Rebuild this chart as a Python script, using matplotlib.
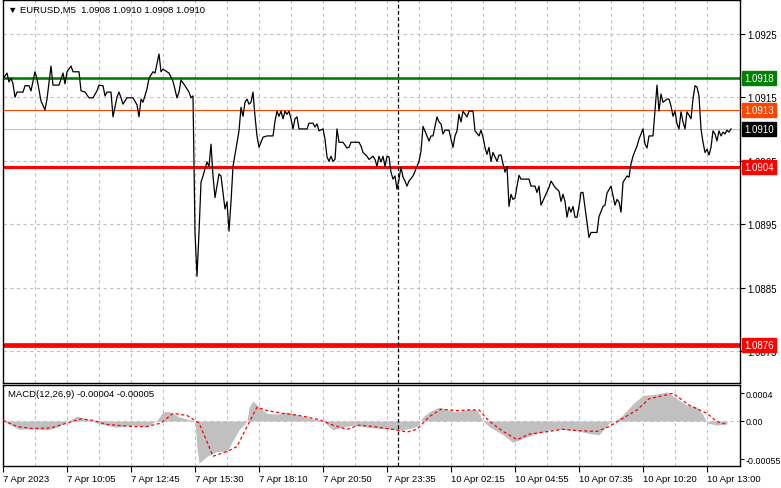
import matplotlib
matplotlib.use("Agg")
import matplotlib.pyplot as plt
from matplotlib.ticker import FixedLocator

# ---------------- data ----------------
price_bars = [0, 2, 3, 4, 5, 6, 7, 10, 11, 13, 14, 16, 17, 19, 21, 22, 24, 25, 28, 30,
              31, 32, 34, 35, 38, 39, 41, 43, 45, 47, 48, 50, 51, 52, 54, 55, 57, 58, 59, 60,
              62, 64, 65, 67, 68, 69, 70, 72, 73, 75, 76, 78, 79, 80, 82, 83, 85, 87, 88, 89,
              91, 93, 94, 95, 96, 97, 98, 99, 100, 102, 103, 104, 105, 106, 107, 108, 109, 110, 111, 112,
              113, 114, 115, 117, 118, 119, 120, 121, 122, 123, 124, 125, 126, 127, 128, 130, 132, 135, 136, 137,
              138, 139, 140, 141, 142, 143, 144, 145, 146, 147, 148, 152, 153, 155, 156, 157, 158, 160, 161, 162,
              163, 164, 165, 166, 167, 168, 170, 172, 173, 174, 178, 179, 180, 182, 183, 185, 186, 187, 188, 189,
              190, 191, 192, 193, 194, 195, 196, 197, 198, 199, 200, 201, 202, 203, 205, 206, 207, 208, 209, 210,
              212, 213, 214, 215, 217, 218, 219, 220, 221, 223, 224, 225, 226, 227, 228, 229, 230, 232, 233, 235,
              236, 238, 239, 240, 241, 242, 243, 244, 245, 246, 247, 248, 249, 250, 251, 252, 253, 254, 255, 256,
              257, 258, 259, 263, 264, 266, 267, 268, 269, 271, 273, 274, 276, 278, 279, 280, 281, 282, 283, 284,
              285, 286, 287, 288, 289, 290, 291, 292, 293, 294, 297, 298, 299, 300, 301, 302, 304, 306, 307, 308,
              309, 310, 311, 312, 313, 314, 315, 317, 318, 320, 321, 322, 323, 325, 326, 327, 328, 329, 330, 332,
              333, 334, 335, 336, 337, 338, 339, 340, 341, 342, 344, 345, 346, 347, 348, 349, 350, 351, 352, 353,
              354, 355, 356, 357, 358, 359, 360, 361, 362, 363, 364]
close = [1.09179, 1.09188, 1.09174, 1.09180, 1.09171, 1.09150, 1.09158, 1.09158, 1.09168, 1.09168,
         1.09160, 1.09190, 1.09179, 1.09144, 1.09130, 1.09147, 1.09199, 1.09169, 1.09169, 1.09188,
         1.09171, 1.09190, 1.09199, 1.09190, 1.09190, 1.09160, 1.09158, 1.09149, 1.09149, 1.09160,
         1.09169, 1.09168, 1.09152, 1.09158, 1.09158, 1.09119, 1.09150, 1.09158, 1.09149, 1.09139,
         1.09149, 1.09149, 1.09149, 1.09138, 1.09119, 1.09147, 1.09142, 1.09163, 1.09180, 1.09190,
         1.09188, 1.09218, 1.09190, 1.09194, 1.09190, 1.09188, 1.09175, 1.09149, 1.09158, 1.09177,
         1.09168, 1.09158, 1.09149, 1.09152, 1.08937, 1.08868, 1.08937, 1.09016, 1.09026, 1.09048,
         1.09041, 1.09076, 1.09026, 1.08992, 1.09010, 1.09029, 1.09026, 1.09000, 1.08974, 1.08985,
         1.08939, 1.08985, 1.09041, 1.09079, 1.09097, 1.09134, 1.09120, 1.09142, 1.09147, 1.09139,
         1.09142, 1.09158, 1.09120, 1.09089, 1.09071, 1.09087, 1.09089, 1.09089, 1.09112, 1.09128,
         1.09120, 1.09128, 1.09116, 1.09128, 1.09123, 1.09128, 1.09116, 1.09100, 1.09116, 1.09119,
         1.09100, 1.09100, 1.09109, 1.09109, 1.09103, 1.09108, 1.09097, 1.09100, 1.09084, 1.09056,
         1.09049, 1.09057, 1.09049, 1.09052, 1.09100, 1.09079, 1.09079, 1.09070, 1.09071, 1.09079,
         1.09079, 1.09073, 1.09063, 1.09057, 1.09052, 1.09057, 1.09052, 1.09041, 1.09057, 1.09048,
         1.09057, 1.09041, 1.09057, 1.09056, 1.09032, 1.09021, 1.09026, 1.09005, 1.09021, 1.09040,
         1.09024, 1.09018, 1.09010, 1.09018, 1.09026, 1.09033, 1.09041, 1.09049, 1.09065, 1.09104,
         1.09089, 1.09081, 1.09089, 1.09089, 1.09119, 1.09111, 1.09108, 1.09092, 1.09098, 1.09098,
         1.09084, 1.09071, 1.09089, 1.09097, 1.09123, 1.09111, 1.09128, 1.09119, 1.09128, 1.09128,
         1.09097, 1.09089, 1.09098, 1.09087, 1.09071, 1.09060, 1.09071, 1.09049, 1.09063, 1.09056,
         1.09049, 1.09059, 1.09059, 1.09045, 1.09032, 1.09041, 1.08978, 1.08997, 1.08989, 1.08991,
         1.09010, 1.09027, 1.09021, 1.09021, 1.09010, 1.09010, 1.09000, 1.09010, 1.08980, 1.08994,
         1.09008, 1.09018, 1.09008, 1.09002, 1.08986, 1.08997, 1.08986, 1.08961, 1.08977, 1.08969,
         1.08978, 1.08961, 1.08961, 1.08978, 1.09000, 1.09000, 1.08977, 1.08953, 1.08929, 1.08937,
         1.08937, 1.08962, 1.08970, 1.08978, 1.08980, 1.08999, 1.09010, 1.08980, 1.08989, 1.08985,
         1.08969, 1.09016, 1.09021, 1.09026, 1.09024, 1.09045, 1.09057, 1.09073, 1.09084, 1.09100,
         1.09076, 1.09070, 1.09089, 1.09089, 1.09128, 1.09169, 1.09128, 1.09155, 1.09142, 1.09147,
         1.09147, 1.09136, 1.09120, 1.09128, 1.09108, 1.09100, 1.09127, 1.09111, 1.09100, 1.09127,
         1.09116, 1.09147, 1.09168, 1.09166, 1.09152, 1.09100, 1.09079, 1.09063, 1.09068, 1.09059,
         1.09071, 1.09097, 1.09092, 1.09081, 1.09097, 1.09089, 1.09095, 1.09092, 1.09098, 1.09095,
         1.09100]

hist_bars = [0, 4, 8, 15, 22, 27, 32, 37, 42, 48, 57, 65, 72, 77, 80, 83, 88, 93, 96, 97,
             98, 102, 107, 112, 115, 118, 122, 123, 125, 128, 132, 137, 142, 148, 155, 160, 165, 168, 175, 182,
             190, 197, 200, 207, 210, 213, 218, 222, 227, 232, 237, 240, 243, 250, 255, 260, 267, 273, 280, 287,
             293, 298, 303, 307, 310, 315, 320, 327, 332, 337, 342, 347, 350, 352, 357, 362]
hist_vals = [0.0, -0.00006, -0.00012, -0.00011, -0.00013, -0.00009, -0.00001, 0.00007, 0.00003, -0.00004,
             -0.00009, -0.00006, -0.00008, 0.00001, 0.00013, 0.00014, 0.00006, 0.00002, 0.0, -0.0004,
             -0.00061, -0.00051, -0.00044, -0.00044, -0.00028, -0.00013, 0.0, 0.0002, 0.00029, 0.0002,
             0.00011, 0.0001, 0.00013, 0.00008, 0.00003, 0.0, -0.00013, -0.0001, -0.00006, -0.00009,
             -0.00011, -0.00013, -0.00013, -0.00008, 0.00006, 0.00013, 0.0002, 0.00016, 0.00013, 0.00017,
             0.00016, 0.0, -0.00008, -0.0002, -0.00031, -0.00025, -0.00018, -0.00013, -0.00012, -0.00014,
             -0.00018, -0.0002, -0.00003, 0.00002, 0.00009, 0.00025, 0.00037, 0.00039, 0.00042, 0.00032,
             0.00023, 0.0002, 0.00009, -0.00003, -0.00006, -0.00004]

signal_bars = [0, 7, 15, 24, 32, 39, 45, 52, 65, 72, 79, 85, 92, 98, 102, 105, 112, 117, 122, 127,
               132, 140, 148, 158, 165, 172, 178, 185, 197, 202, 207, 213, 219, 227, 233, 238, 243, 250, 257, 263,
               273, 280, 287, 297, 303, 310, 317, 323, 335, 343, 352, 357, 362]
signal_vals = [0.00001, -0.00008, -0.00011, -0.0001, -0.00003, 0.00003, 0.00001, -0.00005, -0.00008, -0.00008,
               -0.00003, 0.00011, 0.00008, -0.00003, -0.0003, -0.00051, -0.00044, -0.00037, -0.00008, 0.0002,
               0.00015, 0.00011, 0.00008, 0.00002, -0.00006, -0.00012, -0.00006, -0.00008, -0.00013, -0.00016,
               -0.00012, 0.00006, 0.00017, 0.00015, 0.00016, 0.00016, 0.0, -0.00015, -0.00027, -0.00019,
               -0.00015, -0.00012, -0.00014, -0.00015, -0.00008, 0.00004, 0.00016, 0.00032, 0.0004, 0.00023,
               0.00011, -0.00001, -0.00005]

price_ticks = [1.0875, 1.0885, 1.0895, 1.0905, 1.0915, 1.0925]
macd_ticks = [-0.00055, 0.0, 0.0004]
macd_tick_labels = ["-0.00055", "0.00", "0.0004"]
time_tick_bars = [0, 32, 64, 96, 128, 160, 192, 224, 256, 288, 320, 352]
time_tick_labels = ["7 Apr 2023", "7 Apr 10:05", "7 Apr 12:45", "7 Apr 15:30", "7 Apr 18:10",
                    "7 Apr 20:50", "7 Apr 23:35", "10 Apr 02:15", "10 Apr 04:55", "10 Apr 07:35",
                    "10 Apr 10:20", "10 Apr 13:00"]

level_prices = [1.0918, 1.0913, 1.0910, 1.0904, 1.0876]
level_labels = ["1.0918", "1.0913", "1.0910", "1.0904", "1.0876"]
level_line_colors = ["#008000", "#FF4500", "#C0C0C0", "#FF0000", "#FF0000"]
level_box_colors = ["#008000", "#FF4500", "#000000", "#FF0000", "#FF0000"]
level_widths = [1.9, 0.8, 0.8, 2.2, 3.4]

cursor_bar = 197.5
title_text = "\u25bc EURUSD,M5  1.0908 1.0910 1.0908 1.0910"
macd_text = "MACD(12,26,9) -0.00004 -0.00005"

# ---------------- figure ----------------
plt.rcParams["font.family"] = ["Liberation Sans", "DejaVu Sans"]
plt.rcParams["font.size"] = 7

W, H = 781, 489
fig = plt.figure(figsize=(W / 100, H / 100), dpi=100)
fig.patch.set_facecolor("white")


def rect(l, t, r, b):
    return [l / W, 1 - b / H, (r - l) / W, (b - t) / H]


ax = fig.add_axes(rect(3, 1, 740, 384))
axm = fig.add_axes(rect(3, 386, 740, 467))

GRID = dict(color="#C0C0C0", linestyle=(0, (3, 3)), linewidth=0.8)
XMAX = 368.5
FS = 7.0

# main panel
ax.set_xlim(0, XMAX)
ax.set_ylim(1.08700, 1.09303)
ax.xaxis.set_major_locator(FixedLocator([b for b in range(16, 368, 16)]))
ax.set_yticks(price_ticks)
ax.set_yticklabels([f"{v:.4f}" for v in price_ticks])
ax.yaxis.tick_right()
ax.tick_params(axis="y", direction="out", length=3.5, width=0.8, pad=1.5, labelsize=FS)
ax.tick_params(axis="x", length=0, labelbottom=False)
ax.grid(True, **GRID)
ax.set_axisbelow(True)

for p, lc, lw in zip(level_prices, level_line_colors, level_widths):
    ax.axhline(p, color=lc, linewidth=lw, zorder=2)

ax.plot(price_bars, close, color="black", linewidth=0.9, zorder=3)
ax.axvline(cursor_bar, color="black", linestyle=(0, (3, 2)), linewidth=0.9, zorder=4)

for p, txt, bc in zip(level_prices, level_labels, level_box_colors):
    ax.annotate(txt, xy=(1.0, p), xycoords=("axes fraction", "data"),
                xytext=(4, 0), textcoords="offset pixels", ha="left", va="center",
                color="white", fontsize=FS, annotation_clip=False, zorder=10,
                bbox=dict(boxstyle="square,pad=0.2", facecolor=bc, edgecolor=bc))

ax.text(5 / 737, 1 - 9 / 383, title_text, transform=ax.transAxes, ha="left", va="center",
        fontsize=6.8, color="black")

for s in ax.spines.values():
    s.set_linewidth(1.0)
    s.set_color("black")

# MACD panel
axm.set_xlim(0, XMAX)
axm.set_ylim(-0.00065, 0.00052)
axm.fill_between(hist_bars, 0, hist_vals, color="#C0C0C0", linewidth=0, zorder=2)
axm.plot(signal_bars, signal_vals, color="#FF0000", linestyle=(0, (2.5, 2)), linewidth=0.9, zorder=3)
axm.axhline(0, **GRID, zorder=1)
axm.axvline(cursor_bar, color="black", linestyle=(0, (3, 2)), linewidth=0.9, zorder=4)

axm.set_xticks(time_tick_bars)
axm.set_xticklabels(time_tick_labels, ha="left")
axm.xaxis.set_minor_locator(FixedLocator([b for b in range(16, 368, 32)]))
axm.tick_params(axis="x", which="major", direction="out", length=4, width=0.8, pad=2, labelsize=6.8)
axm.tick_params(axis="x", which="minor", length=0)
axm.grid(True, axis="x", which="both", **GRID)
axm.set_axisbelow(True)

axm.set_yticks(macd_ticks)
axm.set_yticklabels(macd_tick_labels)
axm.yaxis.tick_right()
axm.tick_params(axis="y", direction="out", length=3, width=0.8, pad=1, labelsize=6.4)

axm.text(5 / 737, 1 - 9 / 81, macd_text, transform=axm.transAxes, ha="left", va="center",
         fontsize=6.8, color="black")

for s in axm.spines.values():
    s.set_linewidth(1.0)
    s.set_color("black")

fig.savefig("out.png", dpi=100, facecolor="white")
